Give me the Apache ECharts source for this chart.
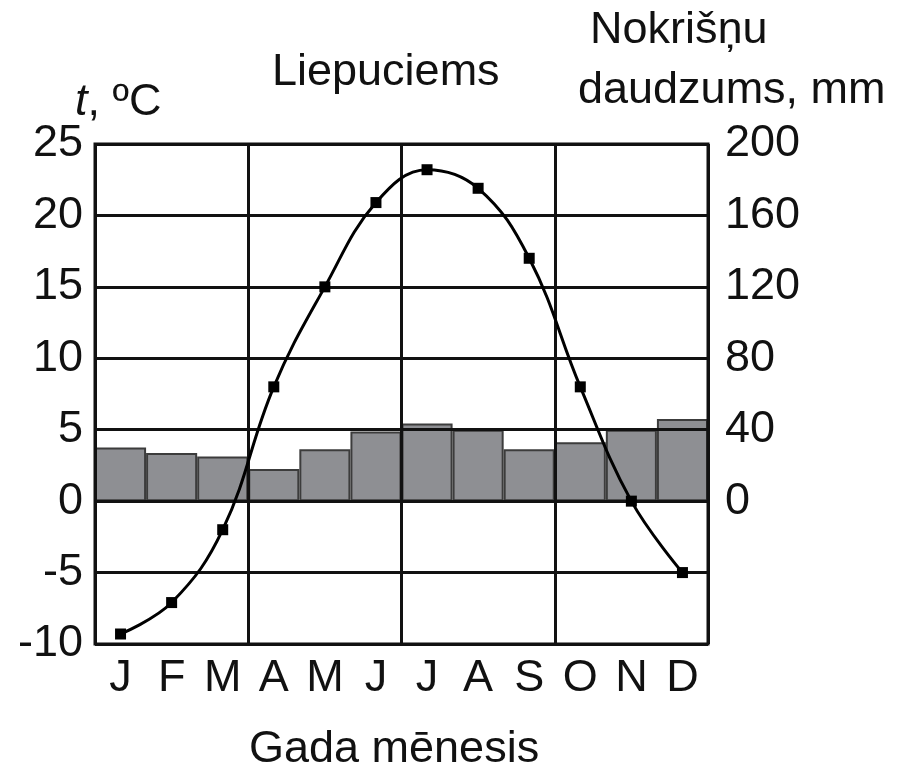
<!DOCTYPE html>
<html>
<head>
<meta charset="utf-8">
<script src="https://cdn.jsdelivr.net/npm/echarts@6/dist/echarts.min.js"></script>
<style>html,body{margin:0;padding:0;background:#fff}#c{width:907px;height:773px}</style>
</head>
<body>
<div id="c"></div>
<script>
const months = ['J','F','M','A','M','J','J','A','S','O','N','D'];
const temperature = [-9.3, -7.1, -2, 8, 15, 20.9, 23.2, 21.9, 17, 8, 0, -5];
const precipitation = [30, 27, 25, 18, 29, 39, 43.5, 40, 29, 33, 40, 46];
const tempTicks = { min: -10, max: 25, interval: 5 };
const precTicks = { min: -80, max: 200, interval: 40 };

const FONT = '"Liberation Sans", Arial, sans-serif';
const chart = echarts.init(document.getElementById('c'));
chart.setOption({
  animation: false,
  backgroundColor: '#fff',
  grid: { left: 95, right: 199, top: 144, bottom: 129, show: true, borderColor: '#111', borderWidth: 3, z: 5, backgroundColor: 'transparent' },
  xAxis: {
    type: 'category', data: months, boundaryGap: true, z: 5,
    axisLine: { show: false }, axisTick: { show: false },
    axisLabel: { color: '#111', fontSize: 45, fontFamily: FONT, margin: 12 },
    splitLine: { show: true, interval: 2, lineStyle: { color: '#111', width: 3 } }
  },
  yAxis: [
    {
      type: 'value', min: tempTicks.min, max: tempTicks.max, interval: tempTicks.interval, z: 5,
      axisLine: { show: false }, axisTick: { show: false },
      axisLabel: { color: '#111', fontSize: 45, fontFamily: FONT, margin: 12 },
      splitLine: { show: true, lineStyle: { color: '#111', width: 3 } }
    },
    {
      type: 'value', min: precTicks.min, max: precTicks.max, interval: precTicks.interval, position: 'right', z: 5,
      axisLine: { show: false }, axisTick: { show: false },
      axisLabel: { color: '#111', fontSize: 45, fontFamily: FONT, margin: 17, formatter: v => v >= 0 ? String(v) : '' },
      splitLine: { show: false }
    }
  ],
  series: [
    {
      type: 'bar', yAxisIndex: 1, data: precipitation, barWidth: '100%', barCategoryGap: '0%', z: 2,
      itemStyle: { color: '#8e8f93', borderColor: '#3c3c3c', borderWidth: 2 }
    },
    {
      type: 'line', yAxisIndex: 0, data: temperature, smooth: 0.4, z: 10,
      symbol: 'rect', symbolSize: 11,
      lineStyle: { color: '#000', width: 3 },
      itemStyle: { color: '#000' }
    }
  ],
  graphic: [
    { type: 'text', left: 75, top: 80, style: { text: '{i|t}, {o|º}C', fill: '#111', font: '45px ' + FONT,
      rich: { i: { fontStyle: 'italic', fontSize: 45, fontFamily: FONT, fill: '#111' }, o: { fontSize: 45, fontFamily: FONT, fill: '#111' } } } },
    { type: 'text', left: 272, top: 50, style: { text: 'Liepuciems', fill: '#111', font: '45px ' + FONT } },
    { type: 'text', left: 590, top: 8, style: { text: 'Nokrišņu', fill: '#111', font: '45px ' + FONT } },
    { type: 'text', left: 578, top: 68, style: { text: 'daudzums, mm', fill: '#111', font: '45px ' + FONT } },
    { type: 'text', left: 249, top: 727, style: { text: 'Gada mēnesis', fill: '#111', font: '45px ' + FONT } }
  ]
});
</script>
</body>
</html>
